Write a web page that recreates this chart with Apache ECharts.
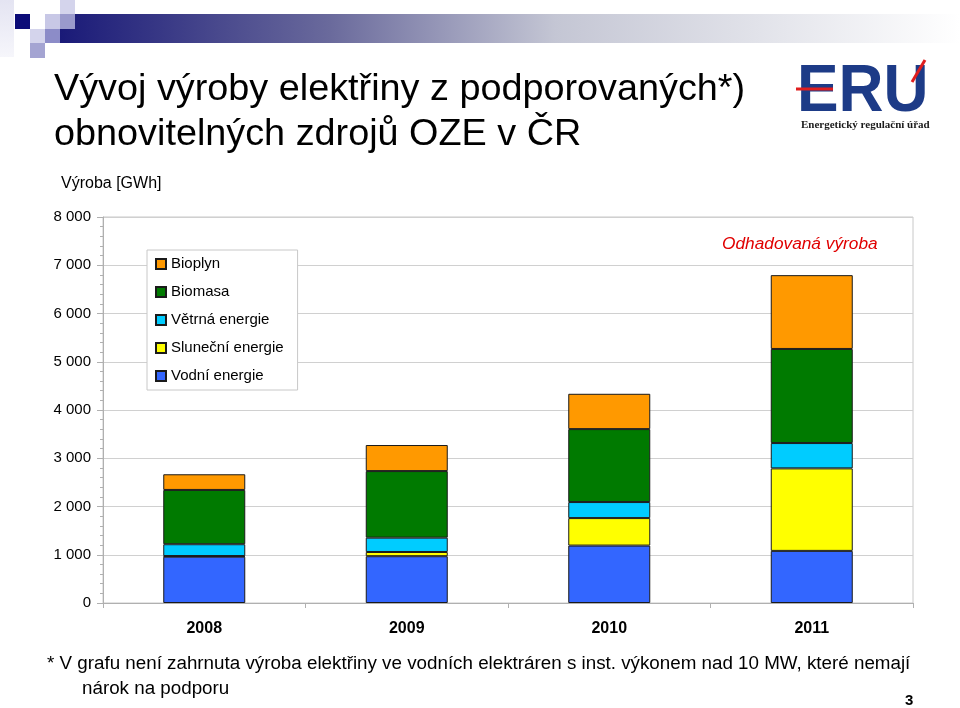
<!DOCTYPE html>
<html><head><meta charset="utf-8">
<script src="https://cdn.jsdelivr.net/npm/echarts@6/dist/echarts.min.js"></script>
<style>html,body{margin:0;padding:0;background:#fff}#c{width:960px;height:708px}</style>
</head><body><div id="c"></div>
<script>
var years = ['2008', '2009', '2010', '2011'];
var vodni = [960, 970, 1190, 1080];
var slunecni = [13, 87, 570, 1710];
var vetrna = [245, 297, 332, 525];
var biomasa = [1125, 1380, 1512, 1950];
var bioplyn = [325, 540, 732, 1530];
var names = ['Vodní energie', 'Sluneční energie', 'Větrná energie', 'Biomasa', 'Bioplyn'];
var colors = ['#3366FF', '#FFFF00', '#00CCFF', '#007A00', '#FF9900'];
var seriesData = [vodni, slunecni, vetrna, biomasa, bioplyn];

var chart = echarts.init(document.getElementById('c'), null, {renderer: 'canvas'});
var FONT = '"Liberation Sans", Arial, sans-serif';
var series = seriesData.map(function (d, i) {
  return {
    name: names[i], type: 'bar', stack: 'total', data: d, barWidth: 82,
    itemStyle: {color: colors[i], borderColor: '#1a1a1a', borderWidth: 1},
    emphasis: {disabled: true}
  };
});
chart.setOption({
  animation: false,
  backgroundColor: '#fff',
  textStyle: {fontFamily: FONT},
  grid: {left: 103, right: 47, top: 217, bottom: 105, show: true, borderColor: '#c8c8c8', borderWidth: 1},
  legend: {
    data: names.slice().reverse(), orient: 'vertical', left: 147, top: 250,
    padding: [6, 14, 6, 8], itemGap: 12, itemWidth: 10, itemHeight: 10,
    backgroundColor: '#fff', borderColor: '#c8c8c8', borderWidth: 1, borderRadius: 0,
    icon: 'rect', selectedMode: false,
    textStyle: {fontFamily: FONT, fontSize: 15, color: '#000', lineHeight: 16, padding: [0, 0, 0, 0]}
  },
  xAxis: {
    type: 'category', data: years,
    axisLine: {lineStyle: {color: '#b0b0b0'}},
    axisTick: {show: true, length: 5, lineStyle: {color: '#b0b0b0'}},
    axisLabel: {fontFamily: FONT, fontSize: 16, fontWeight: 'bold', color: '#000', margin: 18}
  },
  yAxis: {
    type: 'value', min: 0, max: 8000, interval: 1000,
    axisLine: {show: true, lineStyle: {color: '#b0b0b0'}},
    axisTick: {show: true, length: 6, lineStyle: {color: '#b0b0b0'}},
    minorTick: {show: true, splitNumber: 5, length: 3, lineStyle: {color: '#b0b0b0'}},
    splitLine: {show: true, lineStyle: {color: '#d0d0d0'}},
    axisLabel: {fontFamily: FONT, fontSize: 15, color: '#000', margin: 12,
      formatter: function (v) { return v >= 1000 ? Math.floor(v / 1000) + ' ' + String(v % 1000).padStart(3, '0') : String(v); }}
  },
  series: series,
  graphic: [
    {type: 'rect', shape: {x: 60, y: 14, width: 900, height: 29}, silent: true,
      style: {fill: new echarts.graphic.LinearGradient(0, 0, 1, 0, [
        {offset: 0, color: '#1a1a78'}, {offset: 0.3, color: '#6a6a9c'}, {offset: 0.55, color: '#c4c6d4'}, {offset: 1, color: '#ffffff'}])}},
    {type: 'rect', shape: {x: 0, y: 0, width: 14, height: 57}, silent: true,
      style: {fill: new echarts.graphic.LinearGradient(0, 0, 0, 1, [{offset: 0, color: '#e4e4f2'}, {offset: 1, color: '#f6f6fb'}])}},
    {type: 'rect', shape: {x: 15, y: 14, width: 15, height: 15}, silent: true, style: {fill: '#0c0c78'}},
    {type: 'rect', shape: {x: 45, y: 14, width: 15, height: 15}, silent: true, style: {fill: '#c8c8e6'}},
    {type: 'rect', shape: {x: 60, y: 14, width: 15, height: 15}, silent: true, style: {fill: '#9a9acc'}},
    {type: 'rect', shape: {x: 60, y: 0, width: 15, height: 14}, silent: true, style: {fill: '#d4d4ec'}},
    {type: 'rect', shape: {x: 30, y: 29, width: 15, height: 14}, silent: true, style: {fill: '#d4d4ec'}},
    {type: 'rect', shape: {x: 45, y: 29, width: 15, height: 14}, silent: true, style: {fill: '#8c8cc8'}},
    {type: 'rect', shape: {x: 30, y: 43, width: 15, height: 15}, silent: true, style: {fill: '#a4a4d2'}},
    {type: 'text', left: 54, top: 67, silent: true,
      style: {text: 'Vývoj výroby elektřiny z podporovaných*)\nobnovitelných zdrojů OZE v ČR', font: '37.8px ' + FONT, fill: '#000', lineHeight: 45}},
    {type: 'text', left: 61, top: 176, silent: true,
      style: {text: 'Výroba [GWh]', font: '16px ' + FONT, fill: '#000'}},
    {type: 'text', left: 722, top: 236, silent: true,
      style: {text: 'Odhadovaná výroba', font: 'italic 17.3px ' + FONT, fill: '#E00000'}},
    {type: 'text', x: 797, y: 59, scaleX: 0.93, silent: true,
      style: {text: 'ERU', font: 'bold 67px ' + FONT, fill: '#1d3b87'}},
    {type: 'line', shape: {x1: 796, y1: 89, x2: 833, y2: 89}, silent: true, style: {stroke: '#e01e1e', lineWidth: 3}},
    {type: 'line', shape: {x1: 925, y1: 60, x2: 912, y2: 82}, silent: true, style: {stroke: '#e01e1e', lineWidth: 3}},
    {type: 'text', left: 801, top: 120, silent: true,
      style: {text: 'Energetický regulační úřad', font: 'bold 11px "Liberation Serif", "DejaVu Serif", serif', fill: '#1a1a1a'}},
    {type: 'text', left: 47, top: 654, silent: true,
      style: {text: '* V grafu není zahrnuta výroba elektřiny ve vodních elektráren s inst. výkonem nad 10 MW, které nemají', font: '18.8px ' + FONT, fill: '#000'}},
    {type: 'text', left: 82, top: 679, silent: true,
      style: {text: 'nárok na podporu', font: '18.8px ' + FONT, fill: '#000'}},
    {type: 'text', left: 905, top: 693, silent: true,
      style: {text: '3', font: 'bold 15px ' + FONT, fill: '#000'}}
  ]
});
</script></body></html>
